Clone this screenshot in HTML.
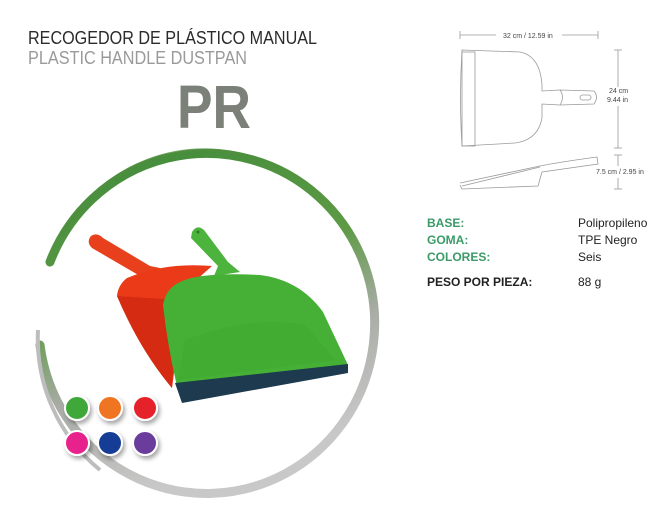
<!DOCTYPE html>
<html><head><meta charset="utf-8"><style>
html,body{margin:0;padding:0;background:#fff;}
svg{display:block;}
text{font-family:"Liberation Sans",sans-serif;}
</style></head><body>
<svg width="671" height="529" viewBox="0 0 671 529" xmlns="http://www.w3.org/2000/svg">
<defs>
<linearGradient id="ring" x1="0" y1="0" x2="0.3" y2="1">
<stop offset="0" stop-color="#3f8a3a"/>
<stop offset="0.45" stop-color="#5d9a45"/>
<stop offset="0.7" stop-color="#a9aca6"/>
<stop offset="1" stop-color="#c8c8c8"/>
</linearGradient>
<filter id="sh" x="-50%" y="-50%" width="200%" height="200%"><feDropShadow dx="2" dy="3" stdDeviation="2" flood-color="#000" flood-opacity="0.35"/></filter>
</defs>

<text x="28" y="44" font-size="18" fill="#2b2b2b" textLength="289" lengthAdjust="spacingAndGlyphs">RECOGEDOR DE PLÁSTICO MANUAL</text>
<text x="28" y="64" font-size="18" fill="#9a9a9a" textLength="219" lengthAdjust="spacingAndGlyphs">PLASTIC HANDLE DUSTPAN</text>
<text x="177" y="128" font-size="61" font-weight="bold" fill="#7b8078" textLength="74" lengthAdjust="spacingAndGlyphs">PR</text>

<!-- Ring -->
<path d="M50 262 A168 170 0 1 1 40 345" fill="none" stroke="url(#ring)" stroke-width="9" stroke-linecap="round"/>
<path d="M62 236 A162 165 0 0 1 260 160" fill="none" stroke="#4f8f3e" stroke-width="3" opacity="0.8"/>
<path d="M38 330 A170 170 0 0 0 100 470" fill="none" stroke="#bdbdbd" stroke-width="4"/>

<!-- Red dustpan -->
<path d="M91 236 Q97 232 103 238 L150 266 L160 268 L150 280 L140 276 L92 248 Q86 242 91 236 Z" fill="#e8401c"/>
<path d="M127 278 Q165 262 212 266 L185 290 L172 388 Q140 350 117 296 Q118 285 127 278 Z" fill="#ea3a18"/>
<path d="M117 296 Q140 350 172 388 L178 300 Z" fill="#d42b12"/>

<!-- Green dustpan -->
<path d="M192 232 Q197 224 204 230 L228 262 L240 272 L214 276 L218 266 L191 238 Z" fill="#4cb33c"/>
<circle cx="198" cy="232" r="1.5" fill="#2f7a25"/>
<path d="M180 282 Q200 272 260 275 Q300 280 323 312 L348 365 L178 390 Q168 350 163 305 Q166 288 180 282 Z" fill="#45b035"/>
<path d="M185 340 Q250 315 305 325 L336 360 L178 380 Z" fill="#3fa830" opacity="0.6"/>
<path d="M175 383 L348 364 L348 373 L182 403 Z" fill="#1d3a4f"/>

<g filter="url(#sh)" stroke="#fff" stroke-width="2">
<circle cx="77" cy="408" r="12" fill="#3fa83a"/>
<circle cx="110" cy="408" r="12" fill="#f07420"/>
<circle cx="145" cy="408" r="12" fill="#e5232a"/>
<circle cx="77" cy="443" r="12" fill="#e8208c"/>
<circle cx="110" cy="443" r="12" fill="#153d95"/>
<circle cx="145" cy="443" r="12" fill="#6a3e9c"/>
</g>

<g stroke="#9a9a9a" stroke-width="0.8" fill="none">
<line x1="460" y1="35" x2="496" y2="35"/><line x1="562" y1="35" x2="598" y2="35"/>
<line x1="460" y1="31" x2="460" y2="39"/><line x1="598" y1="31" x2="598" y2="39"/>
<path d="M462 50 L520 52 Q540 56 542 85 L542 91 L560 90 L594 91 Q599 97 594 104 L560 105 L542 104 L542 118 Q538 140 515 143 L462 146 Q459 98 462 50 Z"/>
<rect x="462" y="52" width="13" height="94"/>
<path d="M560 90 Q565 97 560 105"/>
<rect x="580" y="95" width="11" height="5" rx="2.5"/>
<line x1="618" y1="50" x2="618" y2="87"/><line x1="618" y1="106" x2="618" y2="148"/>
<line x1="614" y1="50" x2="622" y2="50"/><line x1="614" y1="148" x2="622" y2="148"/>
<path d="M460 185 L462 189 L538 186 L542 172 L598 164 L597 157 Q560 162 540 166 L460 183"/>
<path d="M462 186 L540 167"/>
<line x1="618" y1="155" x2="618" y2="166"/><line x1="618" y1="178" x2="618" y2="189"/>
<line x1="614" y1="155" x2="622" y2="155"/><line x1="614" y1="189" x2="622" y2="189"/>
</g>
<g font-size="7" fill="#444">
<text x="503" y="38">32 cm / 12.59 in</text>
<text x="609" y="93">24 cm</text>
<text x="607" y="102">9.44 in</text>
<text x="596" y="174">7.5 cm / 2.95 in</text>
</g>

<g font-size="12" font-weight="bold" fill="#3a9a68">
<text x="427" y="227">BASE:</text>
<text x="427" y="244">GOMA:</text>
<text x="427" y="261">COLORES:</text>
</g>
<text x="427" y="286" font-size="12" font-weight="bold" fill="#222">PESO POR PIEZA:</text>
<g font-size="12" fill="#222">
<text x="578" y="227">Polipropileno</text>
<text x="578" y="244">TPE Negro</text>
<text x="578" y="261">Seis</text>
<text x="578" y="286">88 g</text>
</g>
</svg>
</body></html>
